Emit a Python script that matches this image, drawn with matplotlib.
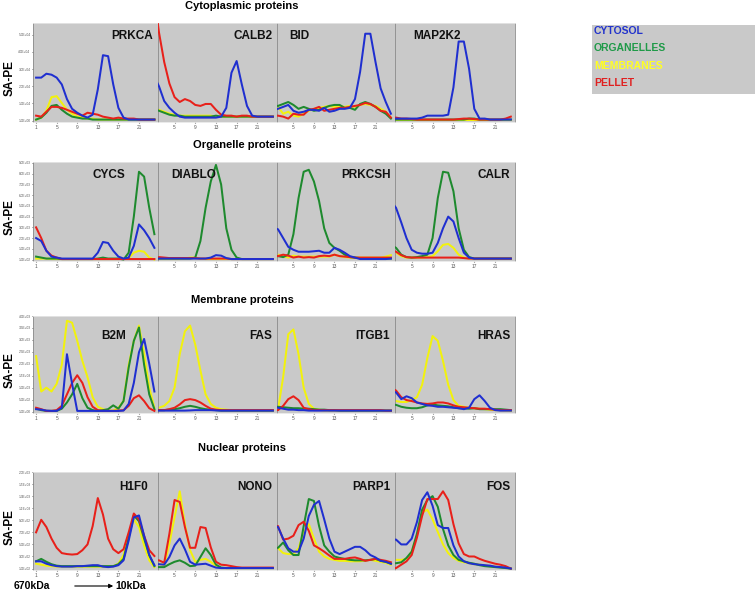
import matplotlib
matplotlib.use("Agg")
import matplotlib.pyplot as plt
from matplotlib.patches import Rectangle

W, H = 755, 592
plt.rcParams['font.family'] = ['Liberation Sans', 'DejaVu Sans']

fractions = ["CYTOSOL", "ORGANELLES", "MEMBRANES", "PELLET"]
colors = ["#1f2fd0", "#1e8a2e", "#f2f20c", "#e8201a"]
legend_colors = ["#2233cc", "#1f9a48", "#ffff22", "#e02020"]
fraction_no = list(range(1, 25))

# relative SA-PE signal per fraction (0-10 of each panel height)
# --- cytoplasmic proteins
prkca_cyt = [4.4, 4.4, 4.8, 4.7, 4.4, 3.7, 2.2, 1.2, 0.8, 0.5, 0.3, 0.6, 3.2, 6.7, 6.6, 3.7, 1.3, 0.3, 0.1, 0.1, 0.1, 0.1, 0.1, 0.1]
prkca_org = [0.1, 0.3, 0.8, 1.5, 1.6, 1.1, 0.7, 0.4, 0.3, 0.2, 0.2, 0.1, 0.1, 0.1, 0.1, 0.1, 0.1, 0.1, 0.1, 0.1, 0.1, 0.1, 0.1, 0.1]
prkca_mem = [0.1, 0.3, 1.0, 2.4, 2.5, 1.8, 1.1, 0.7, 0.4, 0.3, 0.2, 0.2, 0.1, 0.1, 0.1, 0.1, 0.1, 0.1, 0.1, 0.1, 0.1, 0.1, 0.1, 0.1]
prkca_pel = [0.5, 0.4, 0.9, 1.4, 1.4, 1.3, 1.1, 0.9, 0.7, 0.5, 0.8, 0.7, 0.6, 0.4, 0.3, 0.2, 0.3, 0.2, 0.2, 0.2, 0.1, 0.1, 0.1, 0.1]

calb2_cyt = [4.6, 3.5, 2.0, 1.3, 0.8, 0.4, 0.3, 0.3, 0.3, 0.3, 0.3, 0.3, 0.3, 0.4, 1.3, 4.9, 6.1, 3.7, 1.5, 0.5, 0.4, 0.4, 0.4, 0.4]
calb2_org = [1.2, 1.0, 0.8, 0.6, 0.5, 0.5, 0.4, 0.4, 0.4, 0.4, 0.4, 0.4, 0.5, 0.4, 0.4, 0.4, 0.4, 0.4, 0.4, 0.4, 0.4, 0.4, 0.4, 0.4]
calb2_mem = [1.3, 1.1, 0.9, 0.7, 0.6, 0.5, 0.5, 0.5, 0.5, 0.5, 0.5, 0.5, 0.4, 0.4, 0.4, 0.4, 0.4, 0.4, 0.4, 0.4, 0.4, 0.4, 0.4, 0.4]
calb2_pel = [13.0, 9.0, 6.0, 3.8, 2.4, 1.9, 2.2, 2.0, 1.6, 1.5, 1.7, 1.7, 1.1, 0.6, 0.5, 0.5, 0.4, 0.5, 0.5, 0.4, 0.4, 0.4, 0.4, 0.4]

bid_cyt = [1.1, 1.2, 1.4, 1.6, 1.0, 0.8, 0.9, 1.1, 1.1, 1.0, 1.3, 0.9, 1.0, 1.2, 1.2, 1.3, 2.2, 5.0, 8.9, 8.9, 6.0, 3.3, 1.9, 0.7]
bid_org = [1.5, 1.5, 1.7, 1.9, 1.6, 1.2, 1.4, 1.2, 1.0, 1.1, 1.3, 1.5, 1.6, 1.6, 1.3, 1.3, 1.1, 1.7, 1.9, 1.7, 1.4, 1.0, 0.7, 0.2]
bid_mem = [1.4, 1.4, 0.7, 0.9, 0.5, 0.4, 0.7, 1.0, 1.2, 1.3, 1.4, 1.5, 1.4, 1.5, 1.4, 1.5, 1.4, 1.6, 1.7, 1.6, 1.5, 1.2, 0.9, 0.3]
bid_pel = [0.5, 0.5, 0.4, 0.2, 0.7, 0.6, 0.6, 1.1, 1.2, 1.4, 1.0, 1.1, 1.2, 1.3, 1.3, 1.4, 1.5, 1.6, 1.8, 1.7, 1.4, 1.0, 0.9, 0.3]

map2k2_cyt = [0.2, 0.2, 0.2, 0.2, 0.2, 0.2, 0.3, 0.5, 0.5, 0.5, 0.5, 0.6, 3.4, 8.1, 8.1, 5.3, 1.2, 0.2, 0.2, 0.1, 0.1, 0.1, 0.1, 0.1]
map2k2_org = [0.1, 0.1, 0.1, 0.1, 0.1, 0.1, 0.1, 0.1, 0.1, 0.1, 0.1, 0.1, 0.1, 0.1, 0.1, 0.2, 0.2, 0.1, 0.1, 0.1, 0.1, 0.1, 0.1, 0.1]
map2k2_mem = [0.05] * 24
map2k2_pel = [0.3, 0.3, 0.2, 0.2, 0.15, 0.1, 0.1, 0.1, 0.1, 0.1, 0.1, 0.1, 0.1, 0.15, 0.2, 0.2, 0.15, 0.1, 0.1, 0.1, 0.1, 0.1, 0.2, 0.4]

# --- organelle proteins
cycs_cyt = [2.2, 1.9, 0.9, 0.3, 0.2, 0.1, 0.1, 0.1, 0.1, 0.1, 0.1, 0.1, 0.7, 1.8, 1.7, 0.9, 0.3, 0.1, 0.2, 1.4, 3.6, 3.0, 2.2, 1.2]
cycs_org = [0.3, 0.2, 0.1, 0.1, 0.1, 0.05, 0.05, 0.05, 0.05, 0.05, 0.05, 0.05, 0.1, 0.2, 0.1, 0.1, 0.1, 0.0, 0.7, 4.4, 9.0, 8.5, 5.3, 2.6]
cycs_mem = [0.1, 0.1, 0.1, 0.05, 0.05, 0.05, 0.05, 0.05, 0.05, 0.05, 0.05, 0.05, 0.05, 0.05, 0.05, 0.05, 0.05, 0.1, 0.15, 0.7, 0.9, 0.8, 0.2, 0.0]
cycs_pel = [3.3, 2.2, 0.9, 0.4, 0.2, 0.05, 0.05, 0.05, 0.05, 0.05, 0.05, 0.05, 0.05, 0.05, 0.05, 0.05, 0.05, 0.05, 0.05, 0.05, 0.05, 0.05, 0.05, 0.05]

diablo_cyt = [0.1, 0.1, 0.1, 0.1, 0.1, 0.1, 0.1, 0.1, 0.1, 0.1, 0.1, 0.2, 0.45, 0.4, 0.15, 0.05, 0.05, 0.05, 0.05, 0.05, 0.05, 0.05, 0.05, 0.05]
diablo_org = [0.1, 0.1, 0.1, 0.1, 0.1, 0.1, 0.1, 0.1, 0.2, 1.9, 5.3, 8.0, 9.7, 7.7, 3.2, 1.0, 0.2, 0.05, 0.05, 0.05, 0.05, 0.05, 0.05, 0.05]
diablo_mem = [0.05, 0.05, 0.05, 0.05, 0.05, 0.05, 0.1, 0.2, 0.2, 0.1, 0.05, 0.05, 0.05, 0.05, 0.05, 0.05, 0.05, 0.05, 0.05, 0.05, 0.05, 0.05, 0.05, 0.05]
diablo_pel = [0.1, 0.25, 0.2, 0.15, 0.15, 0.15, 0.15, 0.15, 0.15, 0.1, 0.1, 0.1, 0.1, 0.1, 0.1, 0.05, 0.05, 0.05, 0.05, 0.05, 0.05, 0.05, 0.05, 0.05]

prkcsh_cyt = [3.3, 3.1, 2.2, 1.3, 1.0, 0.8, 0.8, 0.8, 0.85, 0.9, 0.7, 0.7, 1.2, 1.0, 0.7, 0.35, 0.2, 0.05, 0.05, 0.05, 0.05, 0.05, 0.05, 0.1]
prkcsh_org = [0.4, 0.35, 0.25, 0.5, 2.6, 6.3, 9.0, 9.2, 8.0, 6.0, 3.2, 1.7, 1.2, 0.9, 0.5, 0.25, 0.2, 0.15, 0.1, 0.1, 0.1, 0.1, 0.1, 0.1]
prkcsh_mem = [0.5, 0.5, 0.35, 0.2, 0.4, 0.3, 0.3, 0.3, 0.3, 0.3, 0.3, 0.3, 0.5, 0.35, 0.25, 0.2, 0.2, 0.2, 0.2, 0.2, 0.2, 0.2, 0.3, 0.45]
prkcsh_pel = [0.35, 0.35, 0.5, 0.4, 0.2, 0.3, 0.2, 0.25, 0.2, 0.35, 0.4, 0.35, 0.5, 0.35, 0.3, 0.25, 0.2, 0.2, 0.2, 0.2, 0.2, 0.2, 0.2, 0.2]

calr_cyt = [6.0, 5.3, 3.8, 2.2, 1.0, 0.7, 0.6, 0.6, 0.7, 1.7, 3.2, 4.4, 3.9, 2.2, 0.7, 0.2, 0.1, 0.1, 0.1, 0.1, 0.1, 0.1, 0.1, 0.1]
calr_org = [1.5, 1.2, 0.5, 0.25, 0.2, 0.25, 0.35, 0.5, 2.2, 6.3, 9.0, 8.9, 7.0, 3.2, 1.0, 0.25, 0.1, 0.1, 0.1, 0.1, 0.1, 0.1, 0.1, 0.1]
calr_mem = [0.9, 0.7, 0.35, 0.2, 0.2, 0.2, 0.2, 0.25, 0.35, 0.85, 1.5, 1.6, 1.2, 0.5, 0.2, 0.1, 0.1, 0.1, 0.1, 0.1, 0.1, 0.1, 0.1, 0.1]
calr_pel = [1.0, 0.8, 0.45, 0.25, 0.2, 0.2, 0.2, 0.2, 0.2, 0.2, 0.2, 0.2, 0.2, 0.2, 0.15, 0.1, 0.1, 0.1, 0.1, 0.1, 0.1, 0.1, 0.1, 0.1]

# --- membrane proteins
b2m_cyt = [0.25, 0.2, 0.1, 0.07, 0.07, 0.4, 6.0, 2.9, 0.07, 0.07, 0.07, 0.07, 0.07, 0.07, 0.07, 0.07, 0.07, 0.1, 0.8, 3.0, 6.2, 7.6, 5.0, 2.1]
b2m_org = [0.3, 0.15, 0.07, 0.07, 0.07, 0.3, 0.95, 1.8, 2.9, 1.4, 0.4, 0.15, 0.07, 0.15, 0.25, 0.65, 0.3, 1.1, 4.6, 7.4, 8.8, 4.9, 1.8, 0.25]
b2m_mem = [5.8, 2.1, 2.5, 2.1, 2.9, 4.9, 9.5, 9.3, 7.4, 5.3, 3.6, 1.5, 0.5, 0.25, 0.1, 0.1, 0.4, 1.1, 4.9, 7.4, 9.0, 6.0, 2.5, 0.4]
b2m_pel = [0.4, 0.25, 0.07, 0.07, 0.15, 0.6, 1.8, 3.0, 3.8, 3.0, 1.5, 0.5, 0.15, 0.07, 0.07, 0.07, 0.1, 0.15, 0.6, 1.4, 1.7, 1.1, 0.35, 0.07]

fas_cyt = [0.1, 0.1, 0.1, 0.1, 0.1, 0.1, 0.1, 0.12, 0.15, 0.15, 0.15, 0.15, 0.12, 0.1, 0.1, 0.1, 0.1, 0.1, 0.1, 0.1, 0.1, 0.1, 0.1, 0.1]
fas_org = [0.15, 0.15, 0.15, 0.2, 0.25, 0.35, 0.5, 0.6, 0.5, 0.35, 0.25, 0.2, 0.15, 0.1, 0.1, 0.1, 0.1, 0.1, 0.1, 0.1, 0.1, 0.1, 0.1, 0.1]
fas_mem = [0.4, 0.4, 0.6, 1.1, 2.5, 6.0, 8.4, 9.0, 7.0, 4.3, 1.8, 0.8, 0.4, 0.25, 0.2, 0.15, 0.1, 0.1, 0.1, 0.1, 0.1, 0.1, 0.1, 0.1]
fas_pel = [0.15, 0.15, 0.15, 0.25, 0.4, 0.75, 1.2, 1.3, 1.2, 0.95, 0.6, 0.3, 0.2, 0.15, 0.15, 0.15, 0.15, 0.15, 0.15, 0.15, 0.15, 0.15, 0.15, 0.15]

itgb1_cyt = [0.4, 0.4, 0.3, 0.2, 0.2, 0.15, 0.15, 0.1, 0.1, 0.1, 0.1, 0.1, 0.1, 0.1, 0.1, 0.1, 0.1, 0.1, 0.1, 0.1, 0.1, 0.1, 0.1, 0.1]
itgb1_org = [0.5, 0.5, 0.45, 0.4, 0.35, 0.35, 0.3, 0.3, 0.25, 0.2, 0.2, 0.15, 0.15, 0.1, 0.1, 0.1, 0.1, 0.1, 0.1, 0.1, 0.1, 0.1, 0.1, 0.1]
itgb1_mem = [0.2, 0.25, 3.6, 8.1, 8.6, 6.0, 2.5, 0.8, 0.3, 0.2, 0.1, 0.1, 0.1, 0.1, 0.1, 0.1, 0.1, 0.1, 0.1, 0.1, 0.1, 0.1, 0.1, 0.1]
itgb1_pel = [0.15, 0.15, 0.6, 1.3, 1.6, 1.2, 0.4, 0.25, 0.15, 0.15, 0.15, 0.15, 0.15, 0.15, 0.15, 0.15, 0.15, 0.15, 0.15, 0.15, 0.15, 0.15, 0.1, 0.1]

hras_cyt = [2.2, 2.0, 1.3, 1.6, 1.4, 0.95, 0.8, 0.65, 0.6, 0.5, 0.5, 0.45, 0.4, 0.35, 0.25, 0.4, 1.3, 1.7, 1.1, 0.4, 0.15, 0.1, 0.1, 0.1]
hras_org = [0.75, 0.7, 0.5, 0.4, 0.35, 0.35, 0.45, 0.65, 0.75, 0.65, 0.6, 0.55, 0.45, 0.35, 0.35, 0.3, 0.35, 0.25, 0.25, 0.25, 0.25, 0.25, 0.2, 0.15]
hras_mem = [1.1, 1.1, 1.0, 1.0, 1.2, 1.5, 2.8, 5.6, 7.9, 7.4, 5.3, 2.8, 1.2, 0.6, 0.5, 0.4, 0.35, 0.3, 0.25, 0.2, 0.15, 0.15, 0.1, 0.07]
hras_pel = [2.5, 2.2, 1.5, 1.2, 1.1, 0.95, 0.85, 0.8, 0.85, 0.95, 0.95, 0.85, 0.65, 0.5, 0.45, 0.4, 0.35, 0.3, 0.3, 0.25, 0.2, 0.15, 0.15, 0.15]

# --- nuclear proteins
h1f0_cyt = [0.75, 0.75, 0.5, 0.35, 0.25, 0.2, 0.2, 0.2, 0.25, 0.25, 0.3, 0.35, 0.35, 0.2, 0.15, 0.2, 0.35, 0.85, 2.9, 5.3, 5.5, 3.4, 1.4, 0.35]
h1f0_org = [0.75, 1.0, 0.7, 0.45, 0.3, 0.25, 0.25, 0.25, 0.25, 0.25, 0.25, 0.25, 0.25, 0.25, 0.25, 0.25, 0.45, 1.0, 3.2, 5.5, 4.9, 3.1, 1.4, 0.25]
h1f0_mem = [0.5, 0.4, 0.3, 0.25, 0.2, 0.2, 0.2, 0.2, 0.2, 0.2, 0.2, 0.2, 0.2, 0.2, 0.2, 0.25, 0.5, 1.4, 3.6, 5.1, 4.3, 2.4, 0.85, 0.15]
h1f0_pel = [3.75, 5.05, 4.3, 3.1, 2.15, 1.6, 1.5, 1.45, 1.5, 1.9, 2.5, 4.4, 7.3, 5.6, 3.1, 2.0, 1.6, 2.0, 3.75, 5.7, 5.1, 3.4, 1.9, 1.3]

nono_cyt = [0.45, 0.45, 0.4, 1.2, 2.4, 3.1, 2.0, 0.7, 0.4, 0.45, 0.5, 0.3, 0.1, 0.05, 0.05, 0.05, 0.05, 0.05, 0.05, 0.05, 0.05, 0.05, 0.05, 0.05]
nono_org = [0.15, 0.15, 0.15, 0.45, 0.7, 0.85, 0.6, 0.25, 0.3, 1.2, 2.1, 1.4, 0.4, 0.1, 0.05, 0.05, 0.05, 0.05, 0.05, 0.05, 0.05, 0.05, 0.05, 0.05]
nono_mem = [0.5, 0.5, 0.35, 2.6, 5.3, 8.0, 4.6, 1.9, 0.7, 0.9, 1.0, 0.7, 0.25, 0.05, 0.05, 0.05, 0.05, 0.05, 0.05, 0.05, 0.05, 0.05, 0.05, 0.05]
nono_pel = [0.85, 0.85, 0.6, 3.6, 7.1, 6.9, 4.3, 2.15, 2.15, 4.3, 4.2, 2.2, 0.7, 0.4, 0.35, 0.25, 0.15, 0.1, 0.1, 0.1, 0.1, 0.1, 0.1, 0.1]

parp1_cyt = [4.5, 4.3, 3.1, 2.1, 1.75, 1.75, 3.1, 5.45, 6.6, 7.0, 5.1, 3.1, 1.75, 1.5, 1.75, 2.0, 2.25, 2.25, 1.9, 1.4, 1.15, 0.8, 0.7, 0.5]
parp1_org = [2.1, 2.15, 2.7, 1.9, 1.4, 1.4, 4.4, 7.2, 7.0, 4.4, 2.4, 1.75, 1.25, 1.1, 1.0, 0.9, 0.85, 0.85, 0.85, 0.9, 1.0, 0.8, 0.7, 0.5]
parp1_mem = [2.1, 2.1, 1.6, 1.5, 1.5, 2.1, 3.8, 4.6, 3.1, 1.75, 1.25, 1.0, 0.9, 0.8, 0.8, 0.75, 0.75, 0.75, 0.85, 0.9, 0.8, 0.7, 0.6, 0.4]
parp1_pel = [4.4, 4.4, 3.0, 3.1, 3.4, 4.5, 4.85, 3.9, 2.4, 2.1, 1.75, 1.35, 1.0, 1.0, 1.0, 1.1, 1.15, 1.0, 0.8, 0.9, 1.0, 0.9, 0.8, 0.65]

fos_cyt = [3.0, 3.0, 2.5, 2.5, 3.1, 4.8, 7.1, 7.9, 6.5, 4.5, 4.2, 4.2, 2.4, 1.25, 0.75, 0.55, 0.45, 0.4, 0.35, 0.3, 0.2, 0.15, 0.1, 0.0]
fos_org = [0.55, 0.55, 0.65, 1.1, 1.75, 3.6, 6.1, 7.1, 7.5, 6.4, 4.1, 2.4, 1.4, 0.9, 0.75, 0.6, 0.5, 0.35, 0.25, 0.2, 0.15, 0.1, 0.05, 0.0]
fos_mem = [0.9, 0.9, 0.9, 1.0, 1.75, 3.4, 5.8, 6.1, 5.1, 3.8, 2.5, 1.6, 1.1, 0.8, 0.65, 0.55, 0.45, 0.4, 0.35, 0.25, 0.2, 0.15, 0.1, 0.0]
fos_pel = [0.05, 0.05, 0.4, 0.75, 1.4, 3.2, 5.45, 7.2, 7.2, 7.2, 8.0, 7.1, 4.6, 2.6, 1.5, 1.25, 1.25, 1.0, 0.8, 0.65, 0.5, 0.4, 0.25, 0.0]

row_titles = ["Cytoplasmic proteins", "Organelle proteins", "Membrane proteins", "Nuclear proteins"]
row_genes = [
    [("PRKCA", prkca_cyt, prkca_org, prkca_mem, prkca_pel),
     ("CALB2", calb2_cyt, calb2_org, calb2_mem, calb2_pel),
     ("BID", bid_cyt, bid_org, bid_mem, bid_pel),
     ("MAP2K2", map2k2_cyt, map2k2_org, map2k2_mem, map2k2_pel)],
    [("CYCS", cycs_cyt, cycs_org, cycs_mem, cycs_pel),
     ("DIABLO", diablo_cyt, diablo_org, diablo_mem, diablo_pel),
     ("PRKCSH", prkcsh_cyt, prkcsh_org, prkcsh_mem, prkcsh_pel),
     ("CALR", calr_cyt, calr_org, calr_mem, calr_pel)],
    [("B2M", b2m_cyt, b2m_org, b2m_mem, b2m_pel),
     ("FAS", fas_cyt, fas_org, fas_mem, fas_pel),
     ("ITGB1", itgb1_cyt, itgb1_org, itgb1_mem, itgb1_pel),
     ("HRAS", hras_cyt, hras_org, hras_mem, hras_pel)],
    [("H1F0", h1f0_cyt, h1f0_org, h1f0_mem, h1f0_pel),
     ("NONO", nono_cyt, nono_org, nono_mem, nono_pel),
     ("PARP1", parp1_cyt, parp1_org, parp1_mem, parp1_pel),
     ("FOS", fos_cyt, fos_org, fos_mem, fos_pel)],
]
row_yticklabels = [
    ["1.0E+00", "1.0E+04", "2.0E+04", "3.0E+04", "4.0E+04", "5.0E+04"],
    ["1.0E+02", "1.0E+03", "2.0E+03", "3.0E+03", "4.0E+03", "5.0E+03", "6.0E+03", "7.0E+03", "8.0E+03", "9.0E+03"],
    ["1.0E+00", "5.0E+02", "1.0E+03", "1.5E+03", "2.0E+03", "2.5E+03", "3.0E+03", "3.5E+03", "4.0E+03"],
    ["1.0E+02", "3.0E+02", "5.0E+02", "7.0E+02", "9.0E+02", "1.1E+03", "1.3E+03", "1.5E+03", "2.0E+03"],
]
row_ytop = [8.8, 9.9, 10.0, 10.0]

# layout in pixels
col_x = [(33, 158), (158, 277), (277, 395), (395, 515)]
row_y = [(23, 122), (162, 261), (316, 413), (472, 570)]
title_y = [6, 145, 300, 448]
# label placement: (x in axes, y in axes, ha)
label_pos = [
    [(0.96, 0.87, 'right'), (0.96, 0.87, 'right'), (0.10, 0.87, 'left'), (0.15, 0.87, 'left')],
    [(0.74, 0.87, 'right'), (0.11, 0.87, 'left'), (0.96, 0.87, 'right'), (0.96, 0.87, 'right')],
    [(0.74, 0.79, 'right'), (0.96, 0.79, 'right'), (0.96, 0.79, 'right'), (0.96, 0.79, 'right')],
    [(0.92, 0.85, 'right'), (0.96, 0.85, 'right'), (0.96, 0.85, 'right'), (0.96, 0.85, 'right')],
]


def fig_rect(x0, y0, x1, y1):
    return [x0 / W, 1 - y1 / H, (x1 - x0) / W, (y1 - y0) / H]


fig = plt.figure(figsize=(W / 100, H / 100), dpi=100)
fig.patch.set_facecolor('white')

for r in range(4):
    fig.text(242 / W, 1 - title_y[r] / H, row_titles[r], ha='center', va='center',
             fontsize=8, fontweight='bold')
    fig.text(10 / W, 1 - ((row_y[r][0] + row_y[r][1]) / 2 + 6) / H, "SA-PE", rotation=90,
             ha='center', va='center', fontsize=8.5, fontweight='bold')
    for c in range(4):
        gene, cyt, org, mem, pel = row_genes[r][c]
        ax = fig.add_axes(fig_rect(col_x[c][0], row_y[r][0], col_x[c][1], row_y[r][1]))
        ax.set_facecolor('#c9c9c9')
        for vals, col, z in [(mem, colors[2], 2), (org, colors[1], 3), (pel, colors[3], 4), (cyt, colors[0], 5)]:
            ax.plot(fraction_no, vals, color=col, lw=1.45, zorder=z)
        if c == 0:
            ax.set_xlim(0.4, 24.7)
            ax.set_xticks([1, 5, 9, 13, 17, 21])
            n = len(row_yticklabels[r])
            ticks = [row_ytop[r] * i / (n - 1) for i in range(n)]
            ax.set_yticks(ticks)
            ax.set_yticklabels(row_yticklabels[r], fontsize=2.3, color='#555555')
        else:
            ax.set_xlim(1.8, 24.8)
            ax.set_xticks([5, 9, 13, 17, 21])
            ax.set_yticks([])
        ax.set_ylim(-0.15, 10)
        ax.tick_params(axis='x', labelsize=3.4, colors='#555555', length=1, pad=1)
        ax.tick_params(axis='y', length=1.0, pad=0.8, width=0.4)
        for side in ['top', 'bottom']:
            ax.spines[side].set_color('#e6e6e6')
            ax.spines[side].set_linewidth(0.6)
        for side in ['left', 'right']:
            ax.spines[side].set_color('#8a8a8a')
            ax.spines[side].set_linewidth(0.6)
        lx, ly, ha = label_pos[r][c]
        ax.text(lx, ly, gene, transform=ax.transAxes, ha=ha, va='center',
                fontsize=8.5, fontweight='bold', color='#111111', zorder=6)

# legend box
fig.patches.append(Rectangle((592 / W, 1 - 94 / H), (755 - 592) / W, (94 - 25) / H,
                             transform=fig.transFigure, facecolor='#c9c9c9', edgecolor='none'))
for i, name in enumerate(fractions):
    fig.text(594 / W, 1 - (31 + i * 17.3) / H, name, ha='left', va='center',
             fontsize=7.5, fontweight='bold', color=legend_colors[i])

# size axis annotation
fig.text(14 / W, 1 - 586 / H, "670kDa", ha='left', va='center', fontsize=7.5, fontweight='bold')
fig.text(115 / W, 1 - 586 / H, "10kDa", ha='left', va='center', fontsize=7.5, fontweight='bold')
fig.add_artist(matplotlib.patches.FancyArrowPatch((72 / W, 1 - 586 / H), (116 / W, 1 - 586 / H),
                                                  transform=fig.transFigure, arrowstyle='-|>',
                                                  mutation_scale=6, lw=0.8, color='black'))

fig.savefig("out.png", dpi=100)
